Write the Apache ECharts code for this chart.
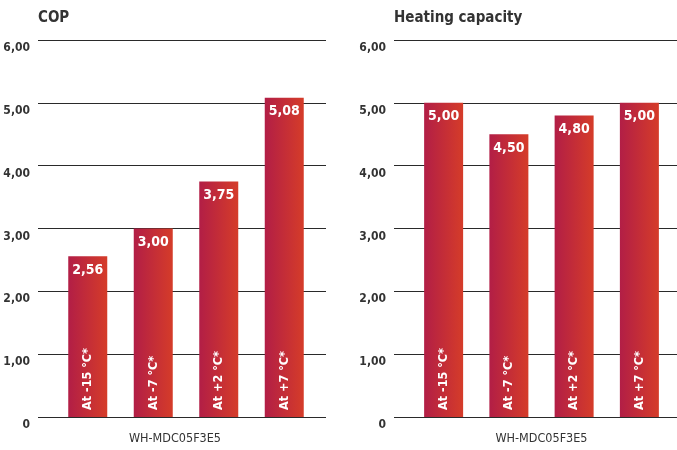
<!DOCTYPE html>
<html>
<head>
<meta charset="utf-8">
<script src="https://cdn.jsdelivr.net/npm/echarts@6/dist/echarts.min.js"></script>
<style>html,body{margin:0;padding:0;background:#fff}#c{width:677px;height:450px}</style>
</head>
<body>
<div id="c"></div>
<script>
const categories = ['At -15 °C*', 'At -7 °C*', 'At +2 °C*', 'At +7 °C*'];
const copValues = [2.56, 3.00, 3.75, 5.08];
const heatingValues = [5.00, 4.50, 4.80, 5.00];
const yTickLabels = ['0', '1,00', '2,00', '3,00', '4,00', '5,00', '6,00'];
const modelName = 'WH-MDC05F3E5';
const titles = ['COP', 'Heating capacity'];

const FONT = '"DejaVu Sans Condensed", "DejaVu Sans", sans-serif';
const BW = 'bold condensed';
const NW = 'normal condensed';
const TXT = '#333333';
const fmt = v => v.toFixed(2).replace('.', ',');
const grad = {type: 'linear', x: 0, y: 0, x2: 1, y2: 0,
  colorStops: [{offset: 0, color: '#b21e46'}, {offset: 1, color: '#d53c29'}]};

const chart = echarts.init(document.getElementById('c'), null, {renderer: 'canvas'});

const gridsDef = [
  {frame: {left: 38, width: 288, top: 40, bottom: 33}, bars: {left: 55, width: 262, top: 40, bottom: 33}},
  {frame: {left: 394, width: 283, top: 40, bottom: 33}, bars: {left: 411, width: 261, top: 40, bottom: 33}}
];
const dataSets = [copValues, heatingValues];

const grid = [], xAxis = [], yAxis = [], series = [], title = [];
gridsDef.forEach((g, i) => {
  const fi = grid.length; grid.push(Object.assign({outerBoundsMode: 'none', containLabel: false}, g.frame));
  const bi = grid.length; grid.push(Object.assign({outerBoundsMode: 'none', containLabel: false}, g.bars));
  title.push({text: titles[i], left: g.frame.left, top: 11, padding: 0,
    textStyle: {fontFamily: FONT, fontSize: 15, fontWeight: BW, color: TXT}});
  xAxis.push({gridIndex: fi, type: 'value', show: false, min: 0, max: 1});
  yAxis.push({gridIndex: fi, type: 'value', min: 0, max: 6, interval: 1,
    axisLine: {show: false}, axisTick: {show: false},
    splitLine: {show: true, lineStyle: {color: '#2a2a2a', width: 1.2}},
    axisLabel: {margin: 8, fontFamily: FONT, fontSize: 12, fontWeight: BW, color: TXT,
      verticalAlign: 'top', padding: [2, 0, 0, 0], formatter: (v) => yTickLabels[Math.round(v)]}});
  xAxis.push({gridIndex: bi, type: 'category', data: categories,
    axisLine: {show: false}, axisTick: {show: false}, axisLabel: {show: false},
    name: modelName, nameLocation: 'middle', nameGap: 15,
    nameTextStyle: {fontFamily: FONT, fontSize: 12.5, fontWeight: NW, color: TXT, padding: i === 0 ? [0, 22, 0, 0] : [0, 0, 0, 0]}});
  yAxis.push({gridIndex: bi, type: 'value', min: 0, max: 6, interval: 1, show: false, splitLine: {show: false}});
  const axIdx = xAxis.length - 1;
  series.push({type: 'bar', xAxisIndex: axIdx, yAxisIndex: axIdx, data: dataSets[i], barWidth: 39,
    itemStyle: {color: grad}, z: 2,
    label: {show: true, position: 'insideTop', distance: 7, color: '#fff', fontFamily: FONT,
      fontSize: 14, fontWeight: BW, formatter: p => fmt(p.value)}});
  series.push({type: 'bar', xAxisIndex: axIdx, yAxisIndex: axIdx, data: dataSets[i], barWidth: 39,
    barGap: '-100%', itemStyle: {color: 'transparent'}, z: 3, silent: true,
    label: {show: true, position: 'insideBottom', distance: 7, rotate: 90, align: 'left',
      verticalAlign: 'middle', color: '#fff', fontFamily: FONT, fontSize: 12.5, fontWeight: BW,
      formatter: p => categories[p.dataIndex]}});
});

chart.setOption({animation: false, backgroundColor: '#fff', title, grid, xAxis, yAxis, series});
</script>
</body>
</html>
